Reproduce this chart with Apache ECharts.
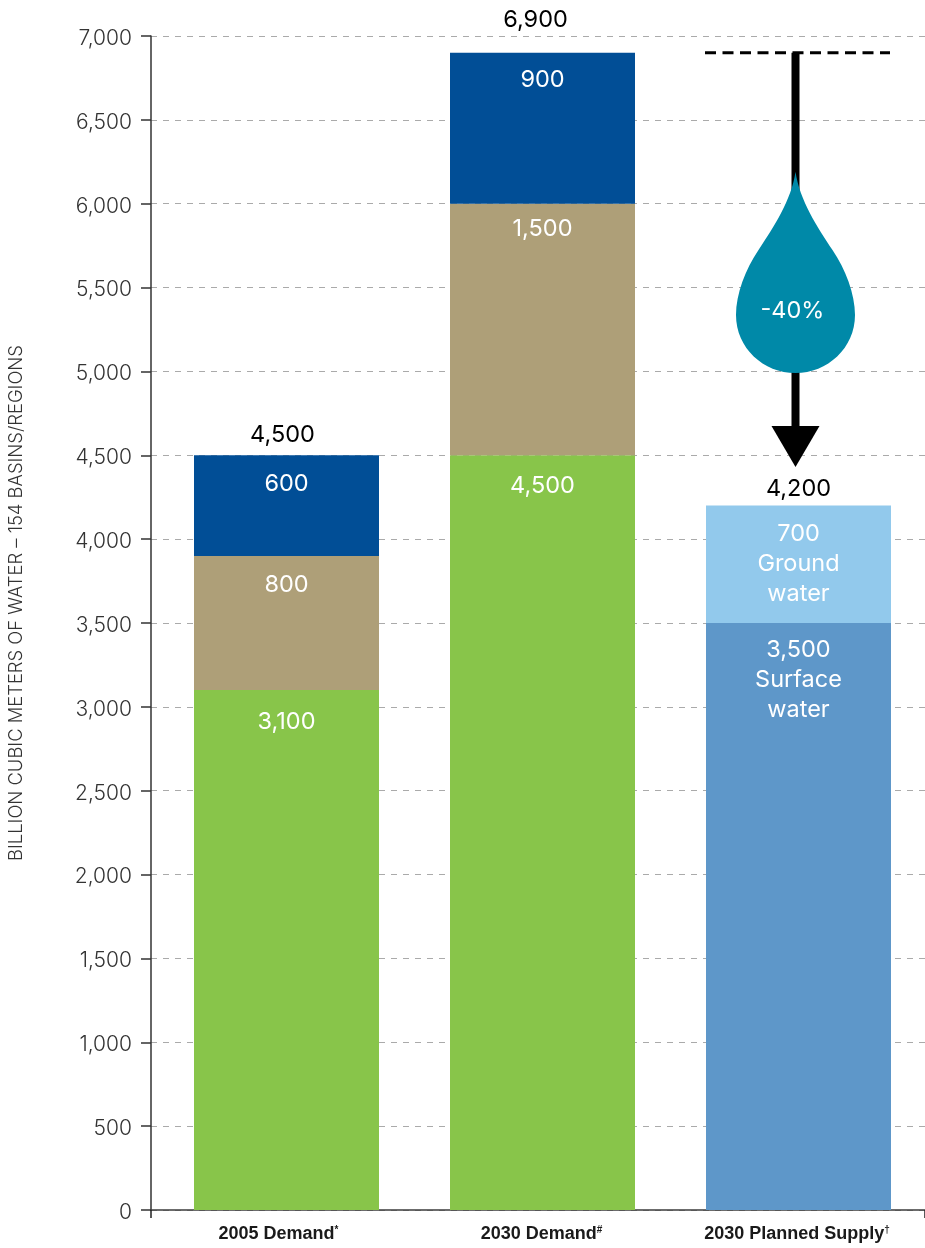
<!DOCTYPE html>
<html>
<head>
<meta charset="utf-8">
<style>html,body{margin:0;padding:0;background:#fff}#c{width:925px;height:1248px}</style>
<script src="https://cdn.jsdelivr.net/npm/echarts@6/dist/echarts.min.js"></script>
</head>
<body>
<div id="c"></div>
<script>
const categories = ['2005 Demand', '2030 Demand', '2030 Planned Supply'];
const categoryMarks = ['*', '#', '†'];
const agriculture = [3100, 4500, null];
const industry = [800, 1500, null];
const municipal = [600, 900, null];
const surfaceWater = [null, null, 3500];
const groundWater = [null, null, 700];
const totals = [4500, 6900, 4200];
const gapFrom = 6900;
const gapArrowTip = 4430;
const dropTop = 6190;
const dropBottom = 4990;
const gapLabel = '-40%';
const axisTitle = 'BILLION CUBIC METERS OF WATER – 154 BASINS/REGIONS';

const FONT = 'Inter, "Liberation Sans", Arial, sans-serif';
const fmt = v => Number(v).toLocaleString('en-US');

function stack(name, data, color, gaps, suffix) {
  return {
    name, type: 'bar', stack: 'a', barWidth: 185,
    data: data.map((v, i) => v === null ? null : ({ value: v, label: { distance: gaps[i] } })),
    xAxisIndex: 1, yAxisIndex: 1,
    itemStyle: { color },
    label: {
      show: true, position: 'insideTop',
      color: '#fff', fontFamily: FONT, fontWeight: 400, fontSize: 23.5, lineHeight: 30,
      formatter: p => fmt(p.value) + (suffix || '')
    }
  };
}
const totalGaps = [8, 21, 5];
const totalShifts = [-4, -7, 0];
const labelPads = [16, 2, 3];

const chart = echarts.init(document.getElementById('c'), null, { renderer: 'canvas' });
chart.setOption({
  animation: false,
  backgroundColor: '#fff',
  grid: [
    { left: 151, top: 36, width: 774, height: 1174, outerBoundsMode: 'none' },
    { left: 158.5, top: 36, width: 768, height: 1174, outerBoundsMode: 'none' }
  ],
  xAxis: [
    { type: 'value', gridIndex: 0, min: 0, max: 1, interval: 1,
      splitLine: { show: false }, axisLabel: { show: false },
      axisLine: { lineStyle: { color: '#3d3d3d', width: 1.5 } },
      axisTick: { show: true, length: 8, lineStyle: { color: '#222', width: 1.5 } } },
    { type: 'category', gridIndex: 1, data: categories,
      axisLine: { show: false }, axisTick: { show: false },
      axisLabel: {
        margin: 15, interval: 0,
        formatter: (v, i) => '{b|' + v + '}{s|' + categoryMarks[i] + '}{p' + i + '|}',
        rich: {
          b: { fontFamily: '"Liberation Sans Narrow", "Liberation Sans", Arial, sans-serif', fontWeight: 'bold', fontSize: 18, color: '#1a1a1a' },
          s: { fontFamily: '"Liberation Sans", Arial, sans-serif', fontWeight: 'bold', fontSize: 10, color: '#1a1a1a', verticalAlign: 'top', padding: [0, 0, 7, 0] },
          p0: { width: labelPads[0] },
          p1: { width: labelPads[1] },
          p2: { width: labelPads[2] }
        }
      } }
  ],
  yAxis: [
    { type: 'value', gridIndex: 0, min: 0, max: 7000, interval: 500,
      axisLine: { show: true, onZero: false, lineStyle: { color: '#333', width: 1.5 } },
      axisTick: { show: true, length: 10, lineStyle: { color: '#333', width: 1.5 } },
      axisLabel: {
        margin: 19, formatter: v => '{a|' + fmt(v) + '}',
        rich: { a: { color: '#333', fontFamily: FONT, fontWeight: 300, fontSize: 21, padding: [5, 0, 0, 0] } }
      },
      splitLine: { show: true, lineStyle: { color: '#aaa', width: 1, type: [6, 6] } } },
    { type: 'value', gridIndex: 1, min: 0, max: 7000, interval: 500,
      axisLine: { show: false }, axisTick: { show: false }, axisLabel: { show: false }, splitLine: { show: false } }
  ],
  graphic: [{
    type: 'text', x: 16, y: 603, rotation: Math.PI / 2,
    style: { text: axisTitle, fontFamily: FONT, fontWeight: 300, fontSize: 18.4, fill: '#333', align: 'center', verticalAlign: 'middle' }
  }],
  series: [
    stack('Agriculture', agriculture, '#88C54A', [17, 16]),
    stack('Industry', industry, '#AE9F78', [14, 10]),
    stack('Municipal', municipal, '#014E96', [14, 12]),
    stack('Surface water', surfaceWater, '#5E97C9', [0, 0, 12], '\nSurface\nwater'),
    stack('Ground water', groundWater, '#92C9EC', [0, 0, 13], '\nGround\nwater'),
    { name: 'Total', type: 'scatter', symbolSize: 0, xAxisIndex: 1, yAxisIndex: 1,
      itemStyle: { opacity: 1 },
      data: totals.map((v, i) => ({ value: v, label: { distance: totalGaps[i], offset: [totalShifts[i], 0] } })),
      label: { show: true, position: 'top', color: '#000', fontFamily: FONT, fontWeight: 400, fontSize: 23.5, formatter: p => fmt(p.value) } },
    { name: 'Gap', type: 'custom', xAxisIndex: 1, yAxisIndex: 1, clip: false, z: 5,
      data: [[2, gapFrom, gapArrowTip, dropTop, dropBottom]],
      encode: { x: 0, y: 1 },
      renderItem: (params, api) => {
        const c = api.coord([api.value(0), api.value(1)]);
        const cx = c[0] - 3, y0 = c[1];
        const yTip = api.coord([2, api.value(2)])[1];
        const yDT = api.coord([2, api.value(3)])[1];
        const yDB = api.coord([2, api.value(4)])[1];
        const headH = 41, headW = 24, dashL = cx - 90.5, dashR = cx + 94.5;
        return { type: 'group', children: [
          { type: 'line', shape: { x1: dashL, y1: y0, x2: dashR, y2: y0 },
            style: { stroke: '#000', lineWidth: 3, lineDash: [11, 6.5] } },
          { type: 'line', shape: { x1: cx, y1: y0, x2: cx, y2: yTip - headH + 1 },
            style: { stroke: '#000', lineWidth: 8 } },
          { type: 'polygon', shape: { points: [[cx - headW, yTip - headH], [cx + headW, yTip - headH], [cx, yTip]] },
            style: { fill: '#000' } },
          { type: 'path', shape: {
              pathData: 'M0,0 C4,28 22,56 37,78 C50,97 59.5,122 59.5,143 C59.5,176 32,201 0,201 C-32,201 -59.5,176 -59.5,143 C-59.5,122 -50,97 -37,78 C-22,56 -4,28 0,0Z',
              layout: 'cover', x: cx - 59.5, y: yDT, width: 119, height: yDB - yDT },
            style: { fill: '#0089A8' } },
          { type: 'text', x: cx - 3, y: yDT + 139,
            style: { text: gapLabel, fill: '#fff', fontFamily: FONT, fontWeight: 400, fontSize: 23.5, align: 'center', verticalAlign: 'middle' } }
        ] };
      } }
  ]
});
</script>
</body>
</html>
